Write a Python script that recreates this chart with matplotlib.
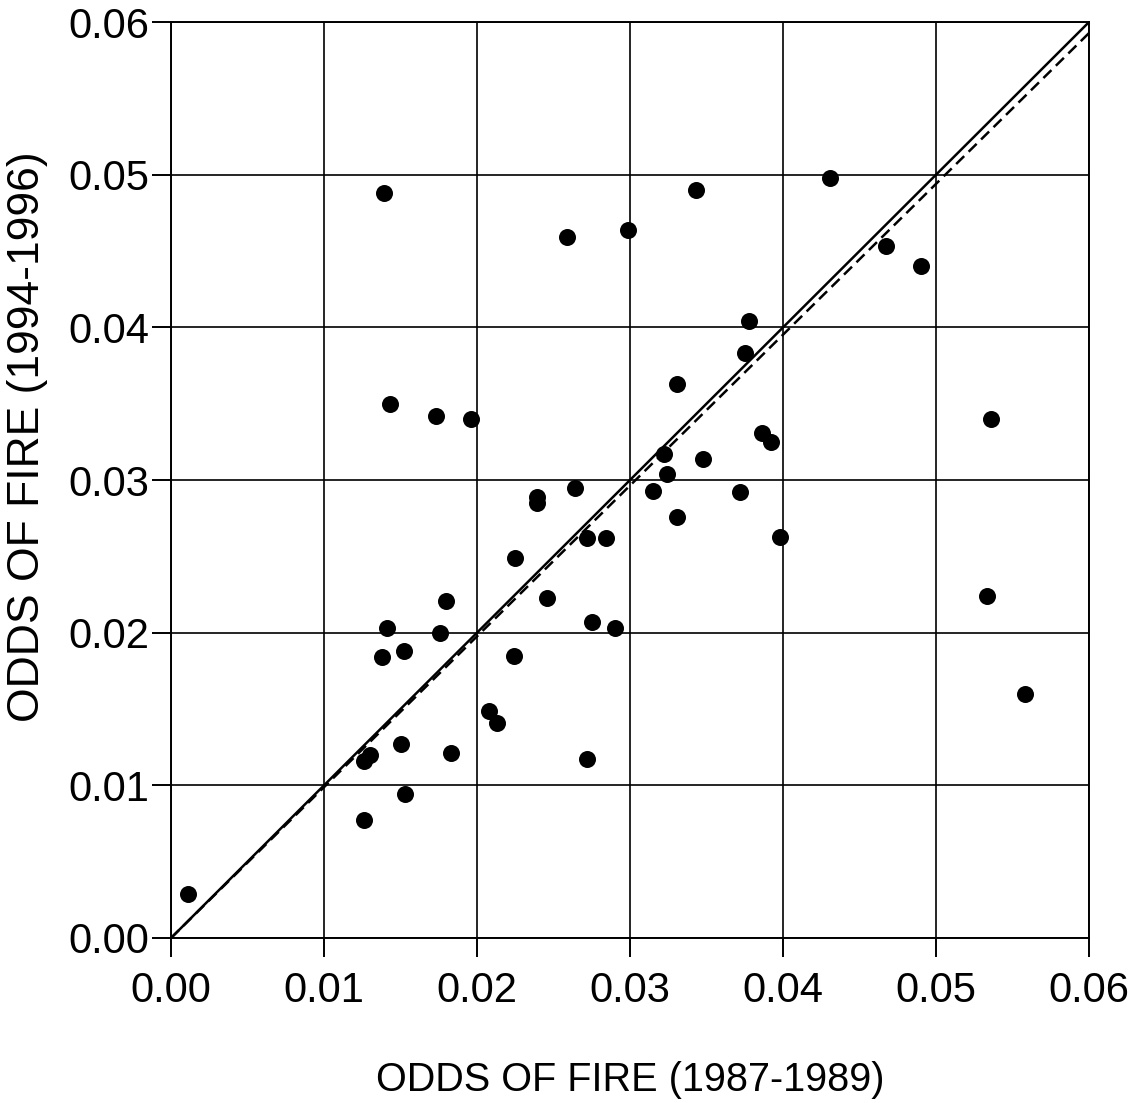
import numpy as np
import matplotlib.pyplot as plt

plt.rcParams['font.family'] = ['Liberation Sans', 'DejaVu Sans']

# odds of fire, 1987-1989 (x) vs 1994-1996 (y)
odds_8789 = [0.0011, 0.0139, 0.0143, 0.0173, 0.0196, 0.0259, 0.0299, 0.0343,
             0.0431, 0.0467, 0.0490, 0.0378, 0.0375, 0.0331, 0.0386, 0.0392,
             0.0322, 0.0348, 0.0324, 0.0264, 0.0239, 0.0239, 0.0315, 0.0372,
             0.0331, 0.0398, 0.0272, 0.0284, 0.0225, 0.0180, 0.0246, 0.0141,
             0.0176, 0.0275, 0.0290, 0.0138, 0.0152, 0.0224, 0.0208, 0.0213,
             0.0130, 0.0126, 0.0150, 0.0183, 0.0272, 0.0153, 0.0126, 0.0536,
             0.0533, 0.0558]
odds_9496 = [0.0029, 0.0488, 0.0350, 0.0342, 0.0340, 0.0459, 0.0464, 0.0490,
             0.0498, 0.0453, 0.0440, 0.0404, 0.0383, 0.0363, 0.0331, 0.0325,
             0.0317, 0.0314, 0.0304, 0.0295, 0.0289, 0.0285, 0.0293, 0.0292,
             0.0276, 0.0263, 0.0262, 0.0262, 0.0249, 0.0221, 0.0223, 0.0203,
             0.0200, 0.0207, 0.0203, 0.0184, 0.0188, 0.0185, 0.0149, 0.0141,
             0.0120, 0.0116, 0.0127, 0.0121, 0.0117, 0.0094, 0.0077, 0.0340,
             0.0224, 0.0160]

# fitted line (dashed) vs 1:1 line (solid)
fit_slope = 0.988
line_x = [0.0, 0.06]

ticks = [0.00, 0.01, 0.02, 0.03, 0.04, 0.05, 0.06]

fig = plt.figure(figsize=(11.37, 11.03), dpi=100)
ax = fig.add_axes([0.1504, 0.1496, 0.8074, 0.8304])

ax.plot(line_x, line_x, color='black', lw=1.8, zorder=2)
ax.plot(line_x, [fit_slope * v for v in line_x], color='black', lw=1.8,
        ls=(0, (4.5, 2.5)), zorder=2)
ax.scatter(odds_8789, odds_9496, s=150, color='black', zorder=3, linewidths=0)

ax.set_xlim(0, 0.06)
ax.set_ylim(0, 0.06)
ax.set_xticks(ticks)
ax.set_yticks(ticks)
ax.set_xticklabels(['%.2f' % t for t in ticks])
ax.set_yticklabels(['%.2f' % t for t in ticks])
ax.grid(True, color='black', lw=1.2)
ax.set_axisbelow(True)
for s in ax.spines.values():
    s.set_linewidth(1.4)
ax.tick_params(direction='out', length=13.5, width=1.4, labelsize=30)
ax.tick_params(axis='x', pad=10)
ax.tick_params(axis='y', pad=2)

ax.set_xlabel('ODDS OF FIRE (1987-1989)', fontsize=28.5, va='center')
ax.set_ylabel('ODDS OF FIRE (1994-1996)', fontsize=32, va='center')
ax.xaxis.set_label_coords(0.5, -0.155)
ax.yaxis.set_label_coords(-0.156, 0.547)

fig.savefig('out.png', dpi=100)
